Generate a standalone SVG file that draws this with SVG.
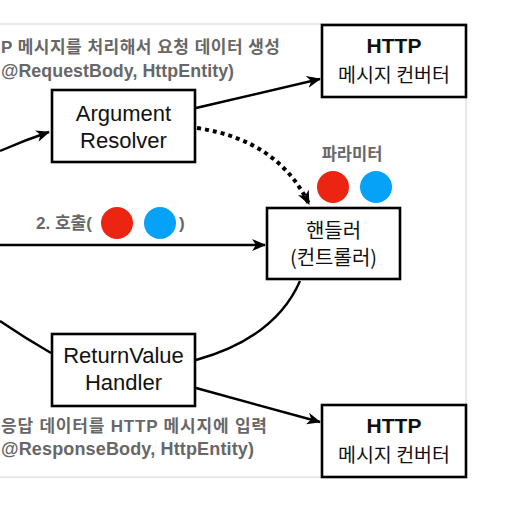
<svg xmlns="http://www.w3.org/2000/svg" width="511" height="523" viewBox="0 0 511 523">
<defs>
<style>
.box{fill:#fff;stroke:#000;stroke-width:2.6}
.t{font-family:"Liberation Sans","Noto Sans CJK KR",sans-serif;fill:#111;text-anchor:middle}
.k{font-family:"Noto Sans CJK KR","Liberation Sans",sans-serif;fill:#111;text-anchor:middle}
.g{font-family:"Liberation Sans","Noto Sans CJK KR",sans-serif;fill:#676767;font-weight:bold}
.c{fill:none;stroke:#000;stroke-width:2.4}
.frame{fill:none;stroke:#e2e2e2;stroke-width:1.5}
</style>
<marker id="ah" viewBox="0 0 14 12" refX="13" refY="6" markerWidth="14" markerHeight="12" markerUnits="userSpaceOnUse" orient="auto">
<path d="M0,0 L14,6 L0,12 L4,6 Z" fill="#000"/>
</marker>
</defs>
<rect width="511" height="523" fill="#fff"/>
<path class="frame" d="M0,24 H466 V477 H0"/>
<g id="connectors">
<path class="c" d="M0,151 Q25,140 49,132" marker-end="url(#ah)"/>
<path class="c" d="M196,108 L320,79" marker-end="url(#ah)"/>
<path d="M197,128 Q278,140 309,204" fill="none" stroke="#000" stroke-width="4" stroke-dasharray="4 4" marker-end="url(#ah)"/>
<path class="c" d="M0,245 L265,245" marker-end="url(#ah)"/>
<path class="c" d="M300,281 Q275,338 196,360"/>
<path class="c" d="M0,321 Q25,338 51,353"/>
<path class="c" d="M196,388 L320,422" marker-end="url(#ah)"/>
</g>
<g id="label-request">
<text class="g" x="1" y="53" font-size="17" textLength="279" lengthAdjust="spacing">P 메시지를 처리해서 요청 데이터 생성</text>
<text class="g" x="1" y="77" font-size="17.8" textLength="233" lengthAdjust="spacing">@RequestBody, HttpEntity)</text>
</g>
<g id="label-call">
<text class="g" x="36" y="229" font-size="17">2. 호출(</text>
<circle cx="117" cy="223" r="16" fill="#ec2412"/>
<circle cx="160" cy="223" r="16" fill="#05a2f7"/>
<text class="g" x="179" y="229" font-size="17">)</text>
</g>
<g id="label-params">
<text class="g" x="352" y="160" font-size="16.5" text-anchor="middle">파라미터</text>
<circle cx="333" cy="187" r="16" fill="#ec2412"/>
<circle cx="376" cy="187" r="16" fill="#05a2f7"/>
</g>
<g id="label-response">
<text class="g" x="1" y="432" font-size="17" textLength="266" lengthAdjust="spacing">응답 데이터를 HTTP 메시지에 입력</text>
<text class="g" x="1" y="455" font-size="18" textLength="253" lengthAdjust="spacing">@ResponseBody, HttpEntity)</text>
</g>
<g id="argument-resolver">
<rect class="box" x="52" y="90" width="143" height="72"/>
<text class="t" x="123.5" y="121" font-size="22">Argument</text>
<text class="t" x="123.5" y="148" font-size="22">Resolver</text>
</g>
<g id="http-converter-top">
<rect class="box" x="322" y="25" width="144" height="72"/>
<text class="t" x="394" y="53" font-size="21" font-weight="bold">HTTP</text>
<text class="k" x="394" y="82" font-size="19.5">메시지 컨버터</text>
</g>
<g id="handler">
<rect class="box" x="267" y="208" width="133" height="71"/>
<text class="k" x="333.5" y="238" font-size="20">핸들러</text>
<text class="k" x="333.5" y="265" font-size="20">(컨트롤러)</text>
</g>
<g id="return-value-handler">
<rect class="box" x="52" y="334" width="143" height="72"/>
<text class="t" x="123.5" y="363" font-size="22">ReturnValue</text>
<text class="t" x="123.5" y="390" font-size="22">Handler</text>
</g>
<g id="http-converter-bottom">
<rect class="box" x="322" y="405" width="144" height="72"/>
<text class="t" x="394" y="433" font-size="21" font-weight="bold">HTTP</text>
<text class="k" x="394" y="462" font-size="19.5">메시지 컨버터</text>
</g>
</svg>
